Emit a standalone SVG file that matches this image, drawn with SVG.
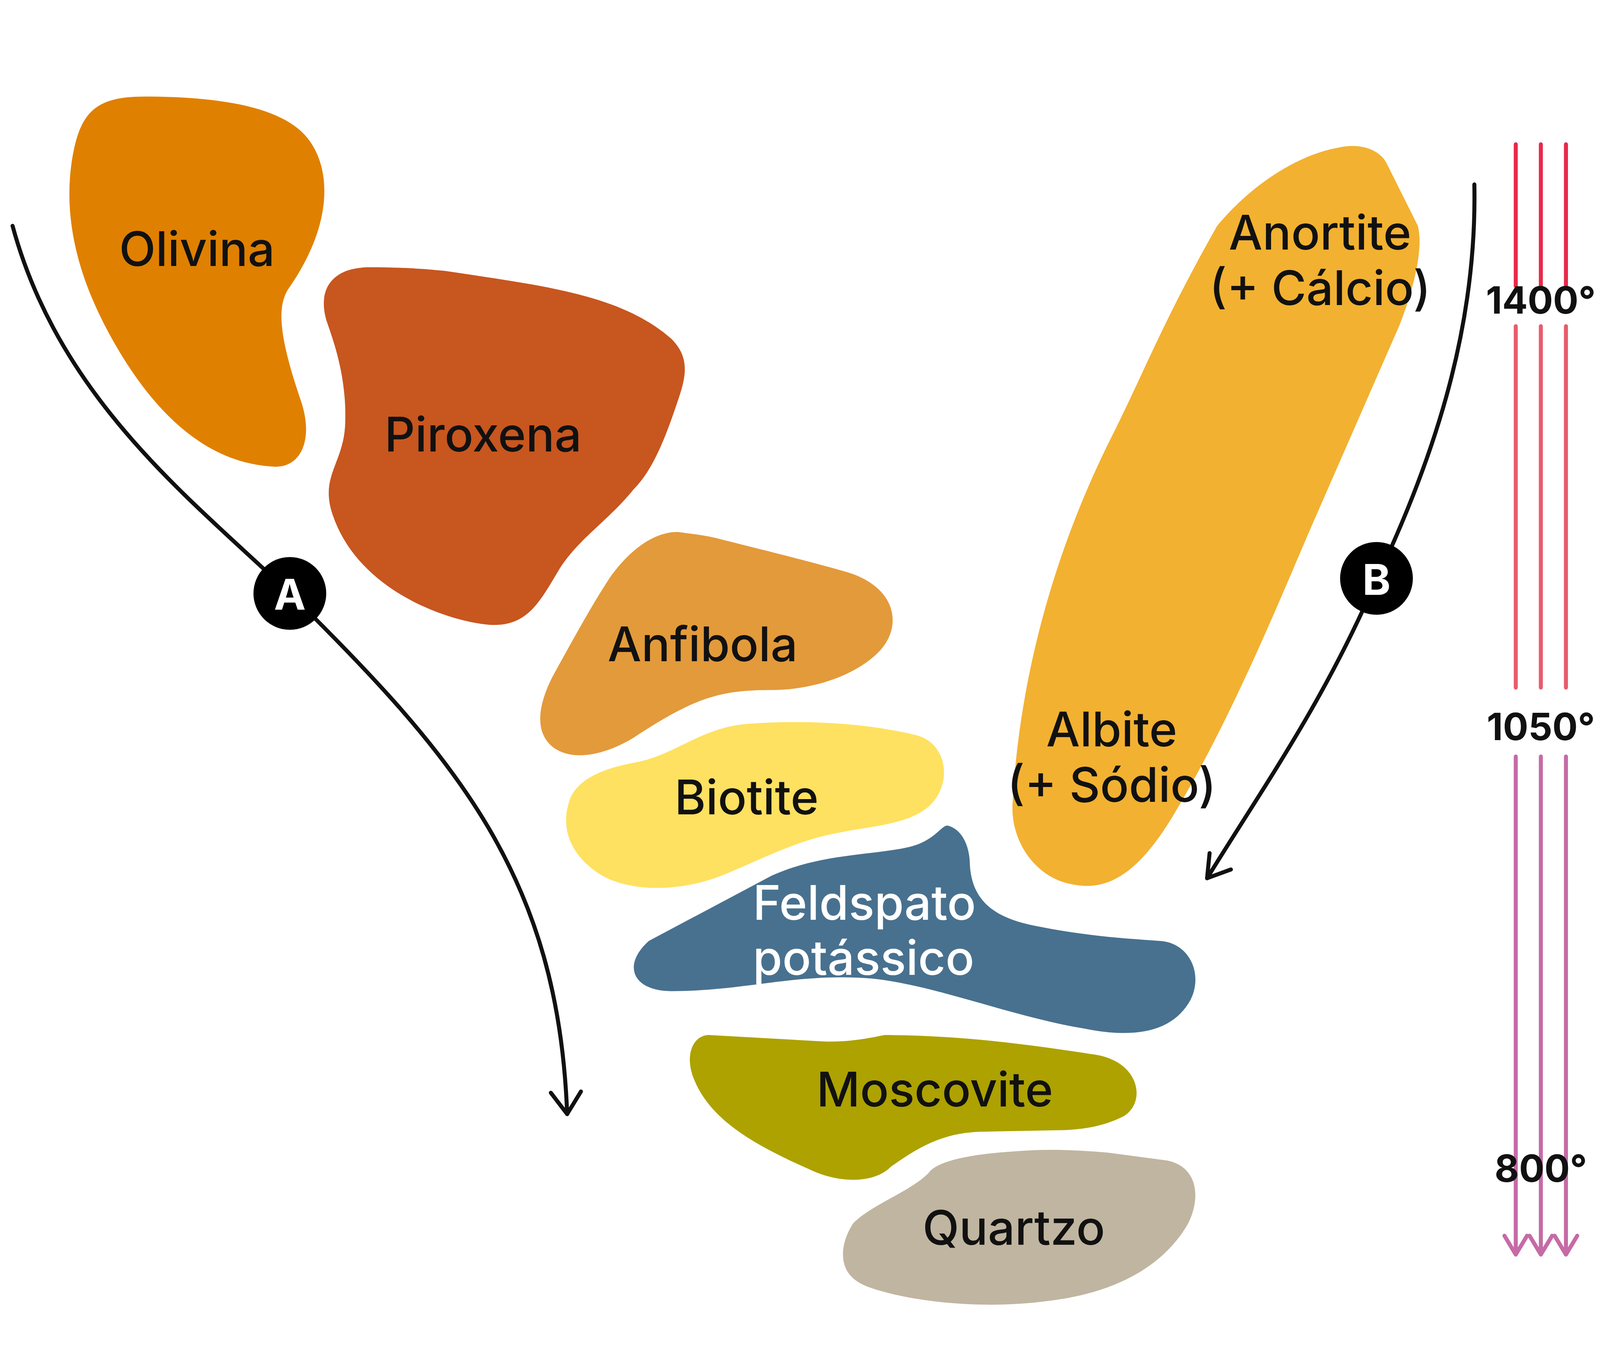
<svg xmlns="http://www.w3.org/2000/svg" width="5011" height="3500" viewBox="0 0 5011 3500">
<style>
.t{font-family:Inter,"Liberation Sans",sans-serif;font-size:38px;font-weight:500;fill:#111;text-anchor:middle}
.c{fill:none;stroke:#111;stroke-width:3.2;stroke-linecap:round;stroke-linejoin:round}
.v{fill:none;stroke-width:3.2;stroke-linecap:round;stroke-linejoin:round}
.d{font-family:Inter,"Liberation Sans",sans-serif;font-size:34px;font-weight:700;fill:#111;text-anchor:middle}
.s{font-size:30px}
</style>
<rect width="5011" height="3500" fill="#fff"/>
<g transform="scale(3.2122)">
<g transform="translate(-65,0)">
<g id="olivina"><path fill="#E08000" d="M180,77 C240,77 290,85 310,110 C330,135 330,180 295,230 C285,245 288,270 305,320 C315,350 305,372 285,372 C230,370 190,330 160,280 C130,230 115,180 122,130 C128,90 140,77 180,77 Z"/><text class="t" x="222" y="212">Olivina</text></g>
<g id="piroxena"><path fill="#C8561F" d="M360,213 C390,213 410,215 420,216 C500,228 560,235 600,270 C615,285 612,300 605,320 C595,350 585,375 570,390 C550,415 525,430 510,455 C495,480 485,500 455,498 C420,495 350,470 330,410 C320,380 338,370 340,340 C342,300 330,270 325,255 C318,230 330,213 360,213 Z"/><text class="t" x="450" y="360">Piroxena</text></g>
<g id="anfibola"><path fill="#E39A3A" d="M605,424 C620,426 630,427 640,430 C680,440 720,450 740,456 C780,468 785,500 765,520 C745,540 710,550 680,550 C640,550 620,555 570,588 C545,603 520,607 505,595 C490,582 495,560 505,540 C520,513 535,485 550,462 C565,440 585,424 605,424 Z"/><text class="t" x="625" y="527">Anfibola</text></g>
<g id="biotite"><path fill="#FEE160" d="M660,577 C700,574 750,575 795,586 C820,592 825,625 805,643 C785,660 750,658 715,668 C690,675 660,690 640,698 C610,710 570,712 545,698 C520,683 510,660 520,635 C530,615 560,610 575,607 C605,600 625,580 660,577 Z"/><text class="t" x="660" y="649">Biotite</text></g>
<g id="feldspato"><path fill="#48718F" d="M820,658 C830,660 838,672 838,690 C840,720 860,732 890,738 C930,746 960,748 990,750 C1015,752 1025,780 1012,800 C998,822 970,828 930,820 C870,810 810,785 760,780 C700,775 660,790 600,790 C570,790 560,770 582,750 L680,698 C720,680 760,682 790,675 C810,670 815,658 820,658 Z"/><text class="t" x="665" y="733" style="fill:#fff;text-anchor:start">Feldspato</text><text class="t" x="665" y="777" style="fill:#fff;text-anchor:start">potássico</text></g>
<g id="moscovite"><path fill="#ADA200" d="M630,825 L720,830 C740,831 755,828 770,825 C830,825 890,833 940,841 C975,848 978,880 960,890 C940,900 920,901 900,901 L850,902 C820,902 800,912 775,930 C760,945 730,942 710,932 C660,910 630,890 618,860 C610,840 618,825 630,825 Z"/><text class="t" x="810" y="882">Moscovite</text></g>
<g id="quartzo"><path fill="#C0B5A0" d="M870,918 C900,915 930,917 950,919 L995,925 C1020,930 1022,955 1012,975 C995,1005 960,1030 900,1037 C840,1045 780,1035 755,1025 C730,1015 735,990 745,975 C760,960 790,950 805,935 C812,925 840,920 870,918 Z"/><text class="t" x="873" y="992">Quartzo</text></g>
<g id="plagioclasio"><path fill="#F2B131" d="M1130,118 C1150,113 1165,120 1170,130 L1195,180 C1200,200 1190,235 1180,260 L1110,420 C1080,490 1045,575 1000,650 C970,700 945,710 920,705 C890,700 870,670 872,640 C878,530 910,430 950,350 C980,290 990,260 1035,180 C1060,150 1095,125 1130,118 Z"/><text class="t" x="1117" y="199">Anortite</text><text class="t" x="1117" y="243">(+ Cálcio)</text><text class="t" x="951" y="595">Albite</text><text class="t" x="951" y="639">(+ Sódio)</text></g>
<g id="connectors">
<path class="c" d="M75,180 C113,320 220,400 296,473 C430,605 510,700 517,888"/>
<path class="c" d="M504,871 L517,888 L528,870"/>
<path class="c" d="M1240,147 C1242,250 1215,350 1162,462 C1120,560 1070,630 1027,700"/>
<path class="c" d="M1029,680 L1027,700 L1046,693"/>
</g>
<g id="labelA"><circle cx="296" cy="473" r="29" fill="#000"/><text class="d" x="296" y="486" style="fill:#fff">A</text></g>
<g id="labelB"><circle cx="1162" cy="461" r="29" fill="#000"/><text class="d" x="1162" y="474" style="fill:#fff">B</text></g>
</g>
<g id="scale">
<path class="v" stroke="#E8294A" d="M1208,115V228M1228,115V228M1248,115V228"/>
<path class="v" stroke="#E85C6C" d="M1208,260V548M1228,260V548M1248,260V548"/>
<path class="v" stroke="#C56BA6" d="M1208,603V1000M1228,603V1000M1248,603V1000M1199,985L1208,1000L1217,985M1219,985L1228,1000L1237,985M1239,985L1248,1000L1257,985"/>
<text class="d s" x="1228" y="250">1400°</text><text class="d s" x="1228" y="590">1050°</text><text class="d s" x="1228" y="942">800°</text>
</g>
</g>
</svg>
